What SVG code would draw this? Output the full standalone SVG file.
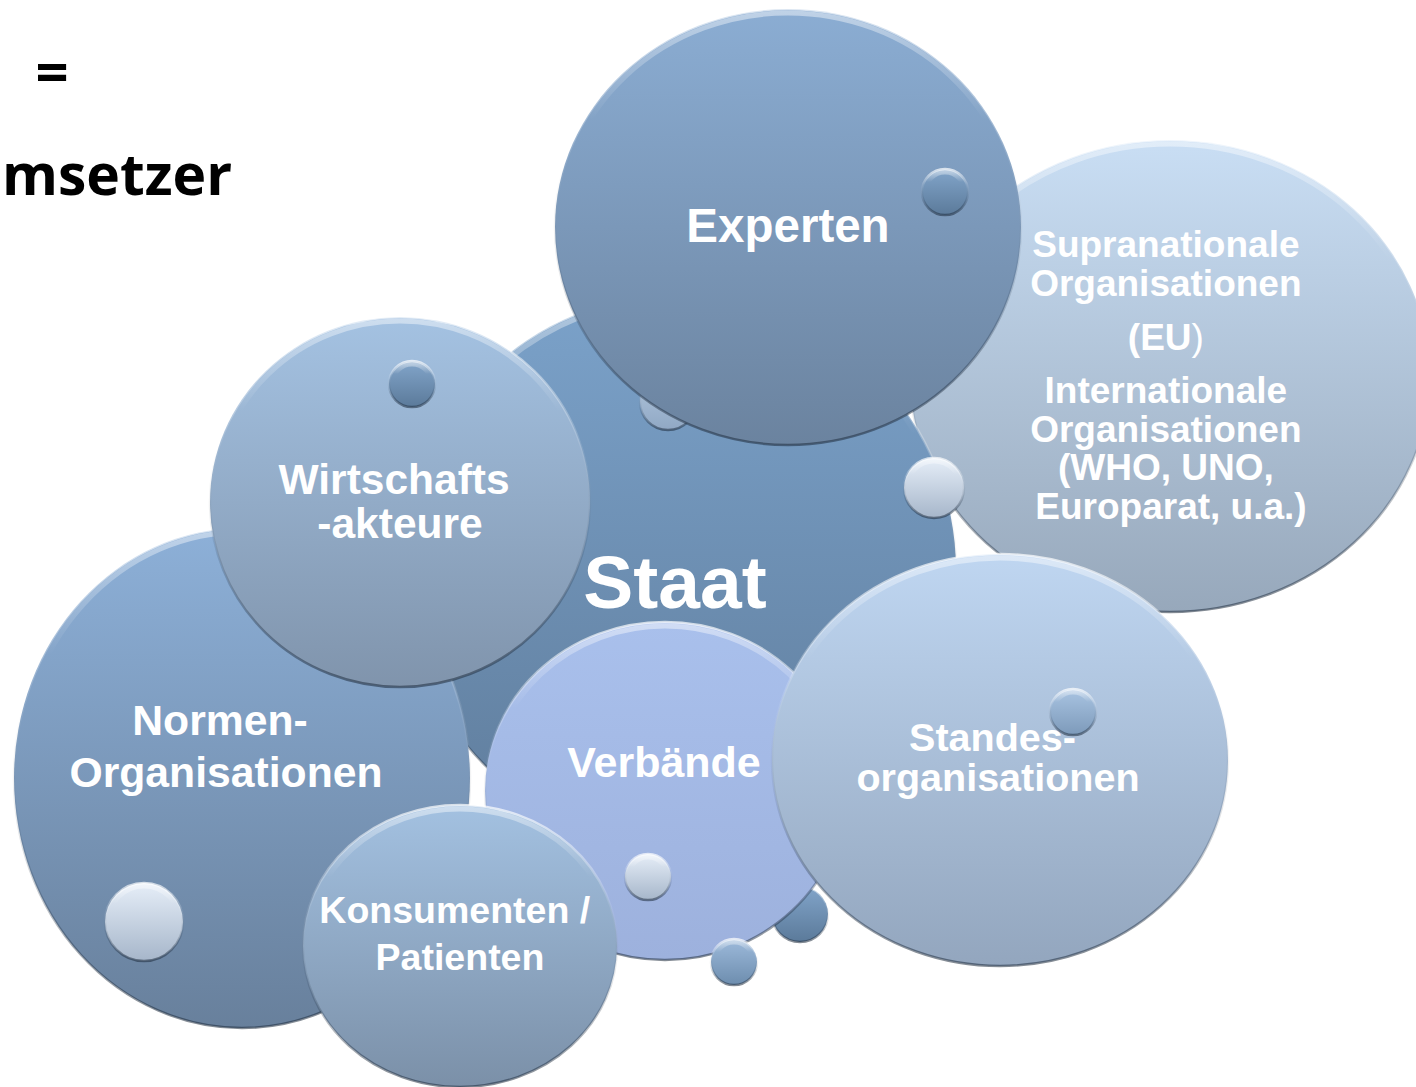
<svg xmlns="http://www.w3.org/2000/svg" width="1416" height="1087" viewBox="0 0 1416 1087">
<defs>
<style>
.lbl{font-family:"Liberation Sans",Arial,Helvetica,sans-serif;font-weight:bold;fill:#ffffff;text-anchor:middle}
.hdr{font-family:"Open Sans","Liberation Sans",sans-serif;font-weight:bold;fill:#000000}
.rim{fill:none;stroke:url(#rim);stroke-width:2.5}
.hl{fill:none;stroke:url(#hl);stroke-width:5}
</style>
<linearGradient id="rim" x1="0" y1="0" x2="0" y2="1">
<stop offset="0" stop-color="#ffffff" stop-opacity="0.7"/>
<stop offset="0.35" stop-color="#ffffff" stop-opacity="0.1"/>
<stop offset="0.6" stop-color="#1d2b3c" stop-opacity="0.1"/>
<stop offset="1" stop-color="#1d2b3c" stop-opacity="0.55"/>
</linearGradient>
<linearGradient id="hl" x1="0" y1="0" x2="0" y2="1">
<stop offset="0" stop-color="#ffffff" stop-opacity="0.45"/>
<stop offset="0.25" stop-color="#ffffff" stop-opacity="0"/>
<stop offset="1" stop-color="#ffffff" stop-opacity="0"/>
</linearGradient>
<linearGradient id="gStaat" x1="0" y1="0" x2="0" y2="1"><stop offset="0" stop-color="#7ba2ca"/><stop offset="1" stop-color="#5f7c9b"/></linearGradient>
<linearGradient id="gExp" x1="0" y1="0" x2="0" y2="1"><stop offset="0" stop-color="#8badd3"/><stop offset="1" stop-color="#6b839f"/></linearGradient>
<linearGradient id="gSup" x1="0" y1="0" x2="0" y2="1"><stop offset="0" stop-color="#c9def4"/><stop offset="1" stop-color="#97a8bb"/></linearGradient>
<linearGradient id="gWir" x1="0" y1="0" x2="0" y2="1"><stop offset="0" stop-color="#a4c2e2"/><stop offset="1" stop-color="#8094ac"/></linearGradient>
<linearGradient id="gNor" x1="0" y1="0" x2="0" y2="1"><stop offset="0" stop-color="#8db0d8"/><stop offset="1" stop-color="#68809c"/></linearGradient>
<linearGradient id="gKon" x1="0" y1="0" x2="0" y2="1"><stop offset="0" stop-color="#a3c1e1"/><stop offset="1" stop-color="#7b90a8"/></linearGradient>
<linearGradient id="gVer" x1="0" y1="0" x2="0" y2="1"><stop offset="0" stop-color="#a9c0ec"/><stop offset="1" stop-color="#9db1dd"/></linearGradient>
<linearGradient id="gSta" x1="0" y1="0" x2="0" y2="1"><stop offset="0" stop-color="#bfd6f1"/><stop offset="1" stop-color="#93a6be"/></linearGradient>
<linearGradient id="bDark" x1="0" y1="0" x2="0" y2="1"><stop offset="0" stop-color="#82a5ca"/><stop offset="1" stop-color="#5b7a9a"/></linearGradient>
<linearGradient id="bMid" x1="0" y1="0" x2="0" y2="1"><stop offset="0" stop-color="#9dbadb"/><stop offset="1" stop-color="#6d8dae"/></linearGradient>
<linearGradient id="bPale" x1="0" y1="0" x2="0" y2="1"><stop offset="0" stop-color="#b2c7de"/><stop offset="1" stop-color="#90a8c4"/></linearGradient>
<linearGradient id="bLight" x1="0" y1="0" x2="0" y2="1"><stop offset="0" stop-color="#e6eef8"/><stop offset="1" stop-color="#a6b6ca"/></linearGradient>
<linearGradient id="bStd" x1="0" y1="0" x2="0" y2="1"><stop offset="0" stop-color="#a9c4e2"/><stop offset="1" stop-color="#7d9aba"/></linearGradient>
</defs>
<rect x="0" y="0" width="1416" height="1087" fill="#ffffff"/>

<g id="title">
<text class="hdr" x="52" y="93" font-size="58" text-anchor="middle">=</text>
<text class="hdr" x="2" y="195" font-size="57" text-anchor="start">msetzer</text>
</g>

<g id="connectors"></g>

<g id="node-supranationale">
<ellipse cx="1170" cy="376" rx="260" ry="236" fill="url(#gSup)"/>
<ellipse cx="1170" cy="376" rx="256" ry="232" class="hl"/>
<ellipse cx="1170" cy="376" rx="260" ry="236" class="rim"/>
<text class="lbl" font-size="37">
<tspan x="1171" y="257">Supranationale</tspan>
<tspan x="1171" y="296">Organisationen</tspan>
<tspan x="1171" y="350">(EU<tspan font-weight="normal">)</tspan></tspan>
<tspan x="1171" y="403">Internationale</tspan>
<tspan x="1171" y="442">Organisationen</tspan>
<tspan x="1171" y="480">(WHO, UNO,</tspan>
<tspan x="1171" y="519">Europarat, u.a.)</tspan>
</text>
</g>

<g id="node-staat">
<ellipse cx="680" cy="570" rx="276" ry="276" fill="url(#gStaat)"/>
<ellipse cx="680" cy="570" rx="272" ry="272" class="hl"/>
<ellipse cx="680" cy="570" rx="276" ry="276" class="rim"/>
<text class="lbl" x="675" y="608" font-size="75">Staat</text>
</g>

<g id="bubble-staat-top">
<circle cx="668" cy="402" r="28" fill="url(#bPale)"/>
<circle cx="668" cy="402" r="28" class="rim"/>
</g>

<g id="node-experten">
<ellipse cx="788" cy="227" rx="233" ry="218" fill="url(#gExp)"/>
<ellipse cx="788" cy="227" rx="229" ry="214" class="hl"/>
<ellipse cx="788" cy="227" rx="233" ry="218" class="rim"/>
<circle cx="945" cy="192" r="23" fill="url(#bDark)"/>
<circle cx="945" cy="192" r="20" class="hl"/>
<circle cx="945" cy="192" r="23" class="rim"/>
<text class="lbl" x="788" y="242" font-size="47.5">Experten</text>
</g>

<g id="bubble-light-right">
<circle cx="934" cy="488" r="30" fill="url(#bLight)"/>
<circle cx="934" cy="488" r="27" class="hl"/>
<circle cx="934" cy="488" r="30" class="rim"/>
</g>

<g id="node-normen">
<ellipse cx="242" cy="778" rx="228" ry="250" fill="url(#gNor)"/>
<ellipse cx="242" cy="778" rx="224" ry="246" class="hl"/>
<ellipse cx="242" cy="778" rx="228" ry="250" class="rim"/>
<circle cx="144" cy="922" r="39" fill="url(#bLight)"/>
<circle cx="144" cy="922" r="36" class="hl"/>
<circle cx="144" cy="922" r="39" class="rim"/>
<text class="lbl" font-size="42.7">
<tspan x="226" y="735">Normen-</tspan>
<tspan x="226" y="787">Organisationen</tspan>
</text>
</g>

<g id="node-wirtschaft">
<ellipse cx="400" cy="502" rx="190" ry="185" fill="url(#gWir)"/>
<ellipse cx="400" cy="502" rx="186" ry="181" class="hl"/>
<ellipse cx="400" cy="502" rx="190" ry="185" class="rim"/>
<circle cx="412" cy="384" r="23" fill="url(#bDark)"/>
<circle cx="412" cy="384" r="20" class="hl"/>
<circle cx="412" cy="384" r="23" class="rim"/>
<text class="lbl" font-size="42.5">
<tspan x="400" y="494">Wirtschafts</tspan>
<tspan x="400" y="538">-akteure</tspan>
</text>
</g>

<g id="bubble-behind-verbaende">
<circle cx="800" cy="914" r="28" fill="url(#bDark)"/>
<circle cx="800" cy="914" r="28" class="rim"/>
</g>

<g id="node-verbaende">
<ellipse cx="665" cy="791" rx="180" ry="169" fill="url(#gVer)"/>
<ellipse cx="665" cy="791" rx="176" ry="165" class="hl"/>
<ellipse cx="665" cy="791" rx="180" ry="169" class="rim"/>
<circle cx="648" cy="877" r="23" fill="url(#bLight)"/>
<circle cx="648" cy="877" r="20" class="hl"/>
<circle cx="648" cy="877" r="23" class="rim"/>
<text class="lbl" x="664" y="777" font-size="43">Verbände</text>
</g>

<g id="bubble-bottom">
<circle cx="734" cy="962" r="23" fill="url(#bMid)"/>
<circle cx="734" cy="962" r="20" class="hl"/>
<circle cx="734" cy="962" r="23" class="rim"/>
</g>

<g id="node-konsumenten">
<ellipse cx="460" cy="946" rx="157" ry="141" fill="url(#gKon)"/>
<ellipse cx="460" cy="946" rx="153" ry="137" class="hl"/>
<ellipse cx="460" cy="946" rx="157" ry="141" class="rim"/>
<text class="lbl" font-size="37.5">
<tspan x="460" y="923">Konsumenten /</tspan>
<tspan x="460" y="970">Patienten</tspan>
</text>
</g>

<g id="node-standes">
<ellipse cx="1000" cy="760" rx="228" ry="206" fill="url(#gSta)"/>
<ellipse cx="1000" cy="760" rx="224" ry="202" class="hl"/>
<ellipse cx="1000" cy="760" rx="228" ry="206" class="rim"/>
<circle cx="1073" cy="712" r="23" fill="url(#bStd)"/>
<circle cx="1073" cy="712" r="20" class="hl"/>
<circle cx="1073" cy="712" r="23" class="rim"/>
<text class="lbl" font-size="39.5">
<tspan x="998" y="751">Standes-</tspan>
<tspan x="998" y="791">organisationen</tspan>
</text>
</g>
</svg>
